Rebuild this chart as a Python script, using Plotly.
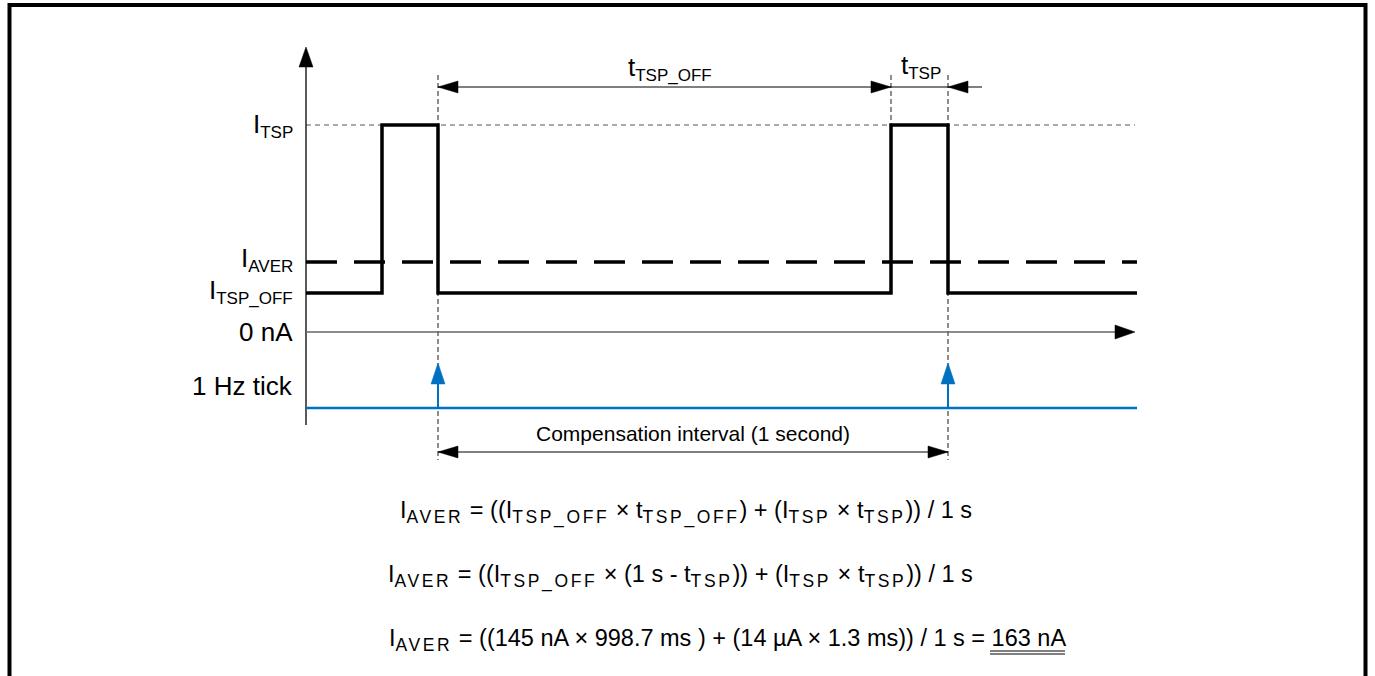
import plotly.graph_objects as go

# ---------------- data (schematic units: x = time units from the current axis,
# y = current units above the 0 nA baseline) ----------------
level_names = ["I_TSP", "I_AVER", "I_TSP_OFF", "0 nA", "1 Hz tick"]
level_values = [207, 70, 39, 0, -76]
I_TSP, I_AVER, I_TSP_OFF, ZERO, TICK = level_values

wave_t = [0, 76, 76, 132, 132, 585, 585, 642, 642, 831]
wave_i = [I_TSP_OFF, I_TSP_OFF, I_TSP, I_TSP, I_TSP_OFF, I_TSP_OFF, I_TSP, I_TSP, I_TSP_OFF, I_TSP_OFF]

tick_times = [132, 642]          # 1 Hz tick instants
pulse_start = [76, 585]          # start of each TSP pulse
t_end = 831                      # end of drawn waveform
axis_end = 829                   # tip of time axis arrow
yaxis_top = 285                  # tip of current axis arrow
yaxis_bottom = -93

dim_y = 245                      # dimension line for t_TSP_OFF / t_TSP
comp_y = -120                    # compensation interval dimension line
guide_top = 257
guide_bottom = -128

formula_lines = [
    "I{AVER} = ((I{TSP_OFF} × t{TSP_OFF}) + (I{TSP} × t{TSP})) / 1 s",
    "I{AVER} = ((I{TSP_OFF} × (1 s - t{TSP})) + (I{TSP} × t{TSP})) / 1 s",
    "I{AVER} = ((145 nA × 998.7 ms ) + (14 µA × 1.3 ms)) / 1 s = 163 nA",
]
formula_y = [-180, -244, -308]
formula_x = [92, 80, 81]

FONT = "Arial, Liberation Sans, sans-serif"
BLUE = "#0070C0"
GRAY = "#555555"


def sub(txt, size, spacing=0):
    # replace {XYZ} by a subscript of given size
    out = ""
    i = 0
    while i < len(txt):
        if txt[i] == "{":
            j = txt.index("}", i)
            style = "font-size:%gpx" % size
            if spacing:
                style += ";letter-spacing:%gpx" % spacing
            out += '<sub><span style="%s">%s</span></sub>' % (style, txt[i + 1:j])
            i = j + 1
        else:
            out += txt[i]
            i += 1
    return out


fig = go.Figure()


def line(xs, ys, color="black", width=1.0, dash=None):
    fig.add_trace(go.Scatter(x=xs, y=ys, mode="lines", hoverinfo="skip",
                             line=dict(color=color, width=width, dash=dash),
                             showlegend=False))


def arrowhead(tx, ty, direction, color="black", length=20, half=7):
    if direction == "left":
        xs = [tx, tx + length, tx + length, tx]
        ys = [ty, ty + half, ty - half, ty]
    elif direction == "right":
        xs = [tx, tx - length, tx - length, tx]
        ys = [ty, ty + half, ty - half, ty]
    else:  # up
        xs = [tx, tx - half, tx + half, tx]
        ys = [ty, ty - length, ty - length, ty]
    fig.add_trace(go.Scatter(x=xs, y=ys, mode="lines", fill="toself",
                             fillcolor=color, line=dict(color=color, width=0.5),
                             hoverinfo="skip", showlegend=False))


# reference dashed line at I_TSP
line([0, axis_end], [I_TSP, I_TSP], color=GRAY, width=1, dash="5px,4px")
# vertical guide lines
line([tick_times[0], tick_times[0]], [guide_top, guide_bottom], color="#444444", width=1.2, dash="5px,3px")
line([pulse_start[1], pulse_start[1]], [guide_top, I_TSP], color="#444444", width=1.2, dash="5px,3px")
line([tick_times[1], tick_times[1]], [guide_top, guide_bottom], color="#444444", width=1.2, dash="5px,3px")

# axes
line([0, 0], [yaxis_bottom, yaxis_top - 18], color="black", width=1.3)
arrowhead(0, yaxis_top, "up", length=20, half=7)
line([0, axis_end - 18], [ZERO, ZERO], color="#666666", width=1.3)
arrowhead(axis_end, ZERO, "right", length=20, half=7)

# average current (dashed) and waveform
line([0, t_end], [I_AVER, I_AVER], color="black", width=3.5, dash="31px,17px")
line(wave_t, wave_i, color="black", width=3.5)

# 1 Hz tick
line([0, t_end], [TICK, TICK], color=BLUE, width=2.5)
for t in tick_times:
    line([t, t], [TICK, TICK + 30], color=BLUE, width=2)
    arrowhead(t, TICK + 45, "up", color=BLUE, length=21, half=7)

# top dimension line
line([tick_times[0], tick_times[1] + 34], [dim_y, dim_y], color="black", width=1)
arrowhead(tick_times[0], dim_y, "left", length=20, half=6)
arrowhead(pulse_start[1], dim_y, "right", length=20, half=6)
arrowhead(tick_times[1], dim_y, "left", length=20, half=6)

# compensation interval dimension line
line([tick_times[0], tick_times[1]], [comp_y, comp_y], color="black", width=1)
arrowhead(tick_times[0], comp_y, "left", length=20, half=6)
arrowhead(tick_times[1], comp_y, "right", length=20, half=6)

ann = []
label_text = ["I{TSP}", "I{AVER}", "I{TSP_OFF}", "0 nA", "1 Hz tick"]
label_offset = [0, 3, 2, 0, 22]
for txt, v, off in zip(label_text, level_values, label_offset):
    ann.append(dict(x=-11, y=v + off, text=sub(txt, 17), xanchor="right", yanchor="middle",
                    showarrow=False, font=dict(family=FONT, size=26, color="black")))

ann.append(dict(x=(tick_times[0] + pulse_start[1]) / 2 + 5, y=dim_y + 19,
                text=sub("t{TSP_OFF}", 17), showarrow=False,
                font=dict(family=FONT, size=26, color="black")))
ann.append(dict(x=(pulse_start[1] + tick_times[1]) / 2 + 1, y=dim_y + 21,
                text=sub("t{TSP}", 17), showarrow=False,
                font=dict(family=FONT, size=26, color="black")))
ann.append(dict(x=(tick_times[0] + tick_times[1]) / 2, y=comp_y + 19,
                text="Compensation interval (1 second)", showarrow=False,
                font=dict(family=FONT, size=21, color="black")))

for txt, fy, fx in zip(formula_lines, formula_y, formula_x):
    ann.append(dict(x=fx, y=fy, text=sub(txt, 17.5, 2.6), xanchor="left", showarrow=False,
                    font=dict(family=FONT, size=23.5, color="black")))

fig.update_layout(annotations=ann)

# double underline under the result
res_x0, res_x1 = 684, 759
for uy in [-319, -322]:
    fig.add_shape(type="line", x0=res_x0, x1=res_x1, y0=uy, y1=uy,
                  line=dict(color="black", width=1))

# page frame
fig.add_shape(type="rect", x0=-296.5, x1=1059.5, y0=-400, y1=327,
              line=dict(color="black", width=4))

fig.update_layout(
    width=1375, height=676,
    margin=dict(l=0, r=0, t=0, b=0),
    paper_bgcolor="white", plot_bgcolor="white",
    xaxis=dict(range=[-306, 1069], visible=False, fixedrange=True),
    yaxis=dict(range=[-344, 332], visible=False, fixedrange=True),
    showlegend=False,
)

fig.write_html("out.html", config={"displayModeBar": False},
               post_script="document.body.style.margin='0px';document.body.style.overflow='hidden';")
